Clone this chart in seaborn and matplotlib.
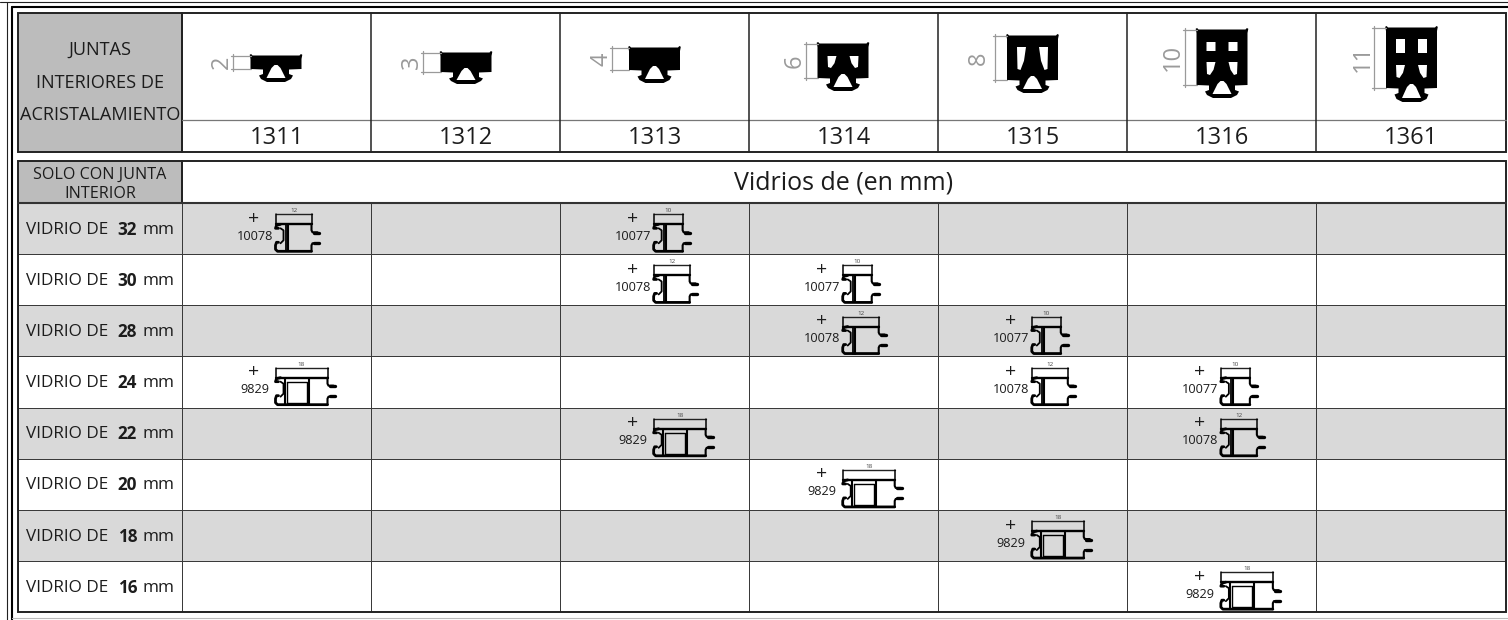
import numpy as np
import pandas as pd
import seaborn as sns
import matplotlib
matplotlib.use("Agg")
import matplotlib.pyplot as plt
from matplotlib.colors import ListedColormap
from matplotlib.patches import Rectangle, PathPatch
from matplotlib.path import Path

# ---------- data ----------
HEADER_LINES = ["JUNTAS", "INTERIORES DE", "ACRISTALAMIENTO"]
SUBHEADER_LINES = ["SOLO CON JUNTA", "INTERIOR"]
SPAN_TITLE = "Vidrios de (en mm)"
JOINT_CODES = ["1311", "1312", "1313", "1314", "1315", "1316", "1361"]
JOINT_HEIGHTS = ["2", "3", "4", "6", "8", "10", "11"]
GLASS_SIZES = ["32", "30", "28", "24", "22", "20", "18", "16"]
GLASS_ROW_SHADED = [1, 0, 1, 0, 1, 0, 1, 0]
# (row, column) of each accessory profile in the table
PLACED_10078 = [(0, 0), (1, 2), (2, 3), (3, 4), (4, 5)]
PLACED_10077 = [(0, 2), (1, 3), (2, 4), (3, 5)]
PLACED_9829 = [(3, 0), (4, 2), (5, 3), (6, 4), (7, 5)]

# ---------- layout (pixels) ----------
W, H = 1508, 620
X0, X1, XE = 18, 182, 1505.5
Y_H0, Y_HS, Y_H1 = 13, 120, 152
Y_S0, Y_S1, Y_E = 161, 203, 612
COL = (XE - X1) / 7
ROW = (Y_E - Y_S1) / 8
DARK = "#222222"
TXT = "#1c1c1c"
GREY_HDR = "#bcbcbc"
GREY_ROW = "#d9d9d9"
DIM = "#9a9a9a"
G_CX = [276, 466, 654.5, 843, 1032.5, 1222, 1411.5]
G_TOP = [56, 53, 48, 44, 36, 30, 28]
G_BOT = [69, 72, 70, 78, 80, 85, 88]
G_FOOT = [82, 84, 83, 91, 93, 98, 102]
G_DIMX = [233, 423, 612, 806, 995, 1185, 1374]
G_LABX = [222, 412, 601, 795, 979, 1173, 1363]
G_HOLE_UP = [None, None, None, None, None, (42, 51), (39, 53)]
G_HOLE_LOW = [None, None, None, (56, 68), (47, 70), (62, 75), (65, 78)]

sns.set_theme(style="white")
plt.rcParams["font.family"] = ["Open Sans", "DejaVu Sans"]

fig = plt.figure(figsize=(W / 100, H / 100), dpi=100, facecolor="white")


def px_axes(x0, y0, x1, y1, **kw):
    return fig.add_axes([x0 / W, 1 - y1 / H, (x1 - x0) / W, (y1 - y0) / H], **kw)


stripes = pd.DataFrame(
    np.tile(np.array(GLASS_ROW_SHADED)[:, None], (1, 7)),
    index=GLASS_SIZES, columns=JOINT_CODES,
)
cmap = ListedColormap(["white", GREY_ROW])
body = px_axes(X1, Y_S1, XE, Y_E)
sns.heatmap(stripes, ax=body, cmap=cmap, vmin=0, vmax=1, cbar=False,
            linewidths=0.7, linecolor="#3a3a3a", xticklabels=False, yticklabels=False)
side = px_axes(X0, Y_S1, X1, Y_E)
sns.heatmap(stripes.iloc[:, :1], ax=side, cmap=cmap, vmin=0, vmax=1, cbar=False,
            linewidths=0.7, linecolor="#3a3a3a", xticklabels=False, yticklabels=False)

ov = fig.add_axes([0, 0, 1, 1], zorder=5)
ov.set_xlim(0, W)
ov.set_ylim(H, 0)
ov.axis("off")
ov.patch.set_visible(False)


def rect(x0, y0, x1, y1, fc="none", ec=DARK, lw=1.3):
    ov.add_patch(Rectangle((x0, y0), x1 - x0, y1 - y0, fc=fc, ec=ec, lw=lw))


# outer double frame
ov.plot([0, W], [2, 2], color=DARK, lw=0.8)
ov.plot([12, W], [7, 7], color="black", lw=1.5)
ov.plot([7, 7], [2, H], color=DARK, lw=0.8)
ov.plot([12, 12], [7, H], color="black", lw=1.5)
ov.plot([12, W], [618, 618], color="#bbbbbb", lw=0.8)

# header table
rect(X0, Y_H0, X1, Y_H1, fc=GREY_HDR, lw=1.4)
rect(X1, Y_H0, XE, Y_H1, lw=1.4)
ov.plot([X1, XE], [Y_HS, Y_HS], color="#777777", lw=0.9)
for i in range(1, 7):
    ov.plot([X1 + i * COL] * 2, [Y_H0, Y_H1], color=DARK, lw=1.1)
for line, y in zip(HEADER_LINES, [49.5, 82.5, 115.5]):
    ov.text((X0 + X1) / 2, y, line, ha="center", va="center", fontsize=13.1, color=TXT)
for i, code in enumerate(JOINT_CODES):
    ov.text(X1 + (i + 0.5) * COL, 138.5, code, ha="center", va="center", fontsize=17, color=TXT)

# sub header
rect(X0, Y_S0, X1, Y_S1, fc=GREY_HDR, lw=1.4)
rect(X1, Y_S0, XE, Y_S1, lw=1.4)
for line, y in zip(SUBHEADER_LINES, [174.5, 193.5]):
    ov.text((X0 + X1) / 2, y, line, ha="center", va="center", fontsize=11.6, color=TXT)
ov.text((X1 + XE) / 2, 183.5, SPAN_TITLE, ha="center", va="center", fontsize=18, color=TXT)
ov.plot([X0, XE], [Y_S1, Y_S1], color="#333333", lw=1.5)
rect(X0, Y_S1, XE, Y_E, lw=1.4)

# row labels
for r, g in enumerate(GLASS_SIZES):
    y = Y_S1 + (r + 0.5) * ROW + 1.2
    ov.text(26, y, "VIDRIO DE", ha="left", va="center", fontsize=12.3, color=TXT)
    ov.text(127.5, y, g, ha="center", va="center", fontsize=12.3, fontweight="bold", color=TXT)
    ov.text(175, y, "mm", ha="right", va="center", fontsize=12.3, color=TXT)


def gasket(i):
    cx, t, b, f = G_CX[i], G_TOP[i], G_BOT[i], G_FOOT[i]
    hw = 25.5
    outer = [(-hw - 0.8, t - 1.2), (-hw + 0.6, t - 2), (-hw + 2, t - 0.5),
             (hw - 2, t - 0.5), (hw - 0.6, t - 2), (hw + 0.8, t - 1.2),
             (hw, t + 3), (hw, b), (13, b + 0.5), (13, b + 5), (17, b + 6.5), (15, f - 3),
             (9, f), (-9, f), (-15, f - 3), (-17, b + 6.5), (-13, b + 5), (-13, b + 0.5),
             (-hw, b), (-hw, t + 3)]
    verts, codes = [], []

    def add(poly, hole=False):
        a = np.array(poly, dtype=float)
        area = np.sum(a[:, 0] * np.roll(a[:, 1], -1) - np.roll(a[:, 0], -1) * a[:, 1])
        if hole == (area > 0):
            a = a[::-1]
        pts = [(cx + x, y) for x, y in a]
        verts.extend(pts + [pts[0]])
        codes.extend([Path.MOVETO] + [Path.LINETO] * (len(pts) - 1) + [Path.CLOSEPOLY])

    add(outer)
    add([(-1.5, b - 4), (1.5, b - 4), (4.5, b - 1), (9.5, f - 4), (-9.5, f - 4), (-4.5, b - 1)], hole=True)
    if G_HOLE_UP[i]:
        y0, y1 = G_HOLE_UP[i]
        for s in (-1, 1):
            add([(s * 15.5, y0), (s * 6.5, y0), (s * 6.5, y1), (s * 15.5, y1)], hole=True)
    if G_HOLE_LOW[i]:
        y0, y1 = G_HOLE_LOW[i]
        for s in (-1, 1):
            add([(s * 15.5, y0), (s * 6.5, y0), (s * 8.5, y0 + 0.6 * (y1 - y0)),
                 (s * 12, y1), (s * 15, y1 - 1)], hole=True)
    ov.add_patch(PathPatch(Path(verts, codes), fc="black", ec="none"))
    dx, lx = G_DIMX[i], G_LABX[i]
    ov.plot([dx, dx], [t - 2, b + 2], color=DIM, lw=0.9)
    ov.plot([dx - 2, cx - hw], [t, t], color=DIM, lw=0.9, zorder=1)
    ov.plot([dx - 2, cx - hw], [b, b], color=DIM, lw=0.9, zorder=1)
    ov.text(lx, (t + b) / 2, JOINT_HEIGHTS[i], rotation=90, ha="center", va="center",
            fontsize=17, color="#9a9a9a")


for i in range(7):
    gasket(i)


def profile(r, c, w, code, dim, chamber):
    cell_x = X1 + c * COL
    cell_y = Y_S1 + r * ROW
    x0, y0 = cell_x + 93.5, cell_y + 12.3

    def ln(pts, lw=1.1, color="black"):
        a = np.array(pts, dtype=float)
        ov.plot(x0 + a[:, 0], y0 + a[:, 1], color=color, lw=lw, solid_capstyle="round",
                solid_joinstyle="round")

    ln([(0, -1), (w, -1)], lw=1.0, color="#222222")
    ln([(0, -1), (0, 9), (w, 9), (w, -1)], lw=1.1)
    ln([(0, 9), (w, 9)], lw=1.7)
    ln([(5, 9), (1, 10), (0, 13), (3, 13)], lw=2.0)
    ln([(3, 27), (1, 27), (0, 30), (0, 34), (2, 36), (w, 36)], lw=2.0)
    ln([(5, 13), (8, 15), (8, 25), (5, 28)], lw=1.3)
    if chamber:
        ln([(9, 9), (9, 36)], lw=1.5)
        ln([(11, 13), (31, 13), (31, 34), (11, 34), (11, 13)], lw=1.0)
        ln([(33, 9), (33, 36)], lw=1.5)
    else:
        ln([(10, 10), (10, 36)], lw=1.3)
        ln([(12.5, 10), (12.5, 36)], lw=1.5)
    ln([(w, 9), (w, 15), (w + 1, 17), (w + 6, 17)], lw=1.5)
    ln([(w + 2, 17.5), (w + 7, 17.5)], lw=2.4)
    ln([(w, 36), (w, 30), (w + 1, 28), (w + 6, 28)], lw=1.5)
    ln([(w + 2, 27.5), (w + 7, 27.5)], lw=2.4)
    ov.text(x0 + w / 2, y0 - 4.5, dim, ha="center", va="center", fontsize=4.5, color="#444444")
    ov.text(cell_x + 72, y0 + 3.5, "+", ha="center", va="center", fontsize=14, color=TXT)
    ov.text(cell_x + 73, y0 + 21, code, ha="center", va="center", fontsize=9.2, color=TXT)


for r, c in PLACED_10078:
    profile(r, c, 36, "10078", "12", False)
for r, c in PLACED_10077:
    profile(r, c, 29, "10077", "10", False)
for r, c in PLACED_9829:
    profile(r, c, 52, "9829", "18", True)

fig.savefig("out.png", dpi=100, facecolor="white")
